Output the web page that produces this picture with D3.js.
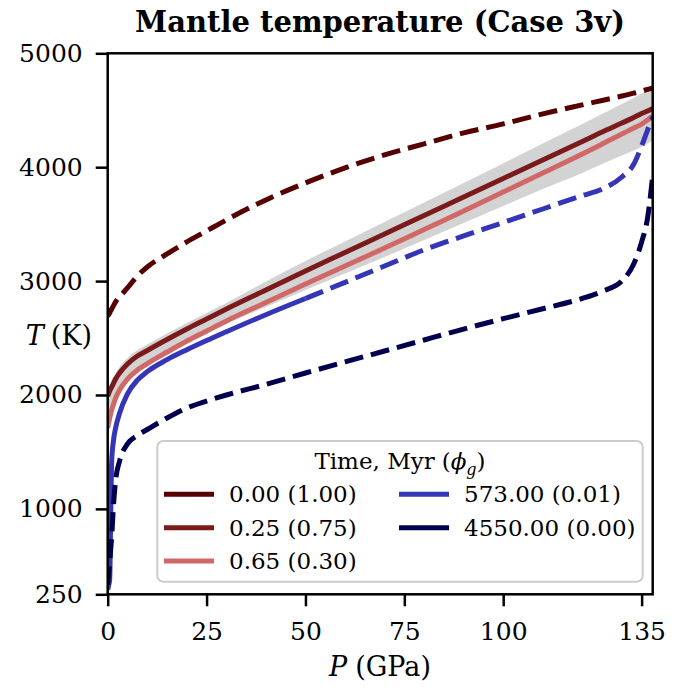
<!DOCTYPE html>
<html>
<head>
<meta charset="utf-8">
<script src="https://cdn.jsdelivr.net/npm/d3@7"></script>
<style>
  body { margin: 0; background: #fff; }
  svg text { font-family: "DejaVu Serif", serif; fill: #000; }
</style>
</head>
<body>
<div id="chart"></div>
<script>
// pressure samples (GPa), shared by every profile
const pressure = [0, 0.25, 0.5, 0.75, 1, 1.5, 2, 3, 5, 7.5, 10, 15, 20, 25, 30, 40, 50,
  60, 70, 80, 90, 100, 110, 120, 125, 130, 133, 135, 136.5, 137.8];

// temperature profiles (K)
const temp000 = [2694, 2705, 2720, 2738, 2755, 2787, 2817, 2861, 2940, 3045, 3124, 3238, 3344, 3440, 3537, 3713, 3862,
  3994, 4108, 4205, 4301, 4380, 4468, 4547, 4586, 4625, 4650, 4668, 4683, 4695];
const temp025 = [1991, 2013, 2035, 2053, 2070, 2105, 2140, 2193, 2272, 2342, 2391, 2487, 2579, 2667, 2755, 2922, 3089,
  3251, 3413, 3576, 3738, 3901, 4063, 4226, 4309, 4388, 4436, 4471, 4493, 4515];
const temp065 = [1710, 1755, 1798, 1835, 1868, 1922, 1973, 2044, 2140, 2219, 2276, 2377, 2474, 2562, 2650, 2812, 2974,
  3132, 3290, 3453, 3615, 3782, 3949, 4116, 4203, 4291, 4344, 4379, 4414, 4449];
const temp573 = [290, 330, 380, 900, 1420, 1610, 1710, 1840, 2010, 2130, 2205, 2310, 2397, 2478, 2555, 2705, 2847,
  2989, 3132, 3275, 3396, 3514, 3633, 3751, 3808, 3914, 4026, 4186, 4326, 4441];
const temp4550 = [332, 420, 520, 640, 753, 1050, 1250, 1420, 1570, 1645, 1697, 1798, 1886, 1947, 2000, 2093, 2193,
  2290, 2386, 2483, 2579, 2670, 2757, 2848, 2909, 3001, 3150, 3343, 3554, 3923];

// grey envelope around the early profiles
const bandHigh = [2044, 2066, 2088, 2106, 2123, 2158, 2193, 2246, 2325, 2395, 2444, 2540, 2632, 2720, 2808, 2997, 3177,
  3348, 3518, 3690, 3861, 4033, 4208, 4380, 4467, 4555, 4607, 4647, 4669, 4695];
const bandLow = [1620, 1680, 1735, 1780, 1815, 1896, 1947, 2018, 2114, 2193, 2250, 2351, 2448, 2536, 2624, 2772, 2921,
  3066, 3211, 3361, 3510, 3659, 3809, 3949, 4027, 4102, 4146, 4177, 4208, 4238];

// legend labels: time in Myr (melt fraction)
const labels = ["0.00 (1.00)", "0.25 (0.75)", "0.65 (0.30)", "573.00 (0.01)", "4550.00 (0.00)"];
const xTicks = [0, 25, 50, 75, 100, 135];
const yTicks = [250, 1000, 2000, 3000, 4000, 5000];
const solidUntil573 = 50; // 573 Myr profile is drawn solid up to this pressure

const colors = ["#560000", "#7b1a1a", "#d06868", "#3535b8", "#00004e"];
const dashed = [true, false, false, null, true];

const width = 686, height = 691;
const svg = d3.select("#chart").append("svg")
  .attr("width", width)
  .attr("height", height);

const x = d3.scaleLinear().domain([0, 137.8]).range([107.7, 652.7]);
const y = d3.scaleLinear().domain([250, 5000]).range([594.3, 53.3]);

svg.append("clipPath").attr("id", "plot")
  .append("rect")
  .attr("x", x(0)).attr("y", y(5000))
  .attr("width", x(137.8) - x(0)).attr("height", y(250) - y(5000));

const plot = svg.append("g").attr("clip-path", "url(#plot)");

// grey band
const band = pressure.map((p, i) => ({ p, lo: bandLow[i], hi: bandHigh[i] }));
plot.append("path")
  .datum(band)
  .attr("fill", "#d3d3d3")
  .attr("d", d3.area()
    .x(d => x(d.p))
    .y0(d => y(d.lo))
    .y1(d => y(d.hi))
    .curve(d3.curveMonotoneX));

const line = d3.line()
  .x(d => x(d.p))
  .y(d => y(d.t))
  .curve(d3.curveMonotoneX);

const profiles = [temp000, temp025, temp065, temp573, temp4550];
profiles.forEach((temps, k) => {
  const pts = pressure.map((p, i) => ({ p, t: temps[i] }));
  const draw = (data, dash) => plot.append("path")
    .datum(data)
    .attr("fill", "none")
    .attr("stroke", colors[k])
    .attr("stroke-width", 5)
    .attr("stroke-dasharray", dash ? "19,8" : null)
    .attr("d", line);
  if (dashed[k] === null) {
    draw(pts.filter(d => d.p <= solidUntil573), false);
    draw(pts.filter(d => d.p >= solidUntil573), true);
  } else {
    draw(pts, dashed[k]);
  }
});

// frame
svg.append("rect")
  .attr("x", x(0)).attr("y", y(5000))
  .attr("width", x(137.8) - x(0)).attr("height", y(250) - y(5000))
  .attr("fill", "none")
  .attr("stroke", "#000")
  .attr("stroke-width", 2.5);

// axes
const xAxis = svg.append("g")
  .attr("transform", `translate(0,${y(250)})`)
  .call(d3.axisBottom(x).tickValues(xTicks).tickSize(12).tickPadding(16).tickFormat(d3.format("d")));
const yAxis = svg.append("g")
  .attr("transform", `translate(${x(0)},0)`)
  .call(d3.axisLeft(y).tickValues(yTicks).tickSize(12).tickPadding(13).tickFormat(d3.format("d")));

[xAxis, yAxis].forEach(ax => {
  ax.select(".domain").remove();
  ax.selectAll(".tick line").attr("stroke", "#000").attr("stroke-width", 2.5);
  ax.selectAll(".tick text")
    .attr("fill", "#000")
    .style("font-family", "DejaVu Serif, serif")
    .style("font-size", "25px");
});

// title and axis labels
svg.append("text")
  .attr("x", 380).attr("y", 32)
  .attr("text-anchor", "middle")
  .style("font-size", "29px")
  .style("font-weight", "bold")
  .text("Mantle temperature (Case 3v)");

const yLabel = svg.append("text")
  .attr("x", 92).attr("y", 345)
  .attr("text-anchor", "end")
  .style("font-size", "27px");
yLabel.append("tspan").style("font-style", "italic").text("T");
yLabel.append("tspan").attr("dx", 7).text("(K)");

const xLabel = svg.append("text")
  .attr("x", 380).attr("y", 676)
  .attr("text-anchor", "middle")
  .style("font-size", "27px");
xLabel.append("tspan").style("font-style", "italic").text("P");
xLabel.append("tspan").attr("dx", 8).text("(GPa)");

// legend
const legend = svg.append("g");
legend.append("rect")
  .attr("x", 157.3).attr("y", 441)
  .attr("width", 485.4).attr("height", 140.7)
  .attr("rx", 6)
  .attr("fill", "#fff").attr("fill-opacity", 0.8)
  .attr("stroke", "#cccccc").attr("stroke-width", 2);

const lt = legend.append("text")
  .attr("x", 400).attr("y", 469)
  .attr("text-anchor", "middle")
  .style("font-size", "23px");
lt.append("tspan").text("Time, Myr");
lt.append("tspan").attr("dx", 7).text("(");
lt.append("tspan").style("font-style", "italic").text("ϕ");
lt.append("tspan").style("font-style", "italic").style("font-size", "16px").attr("dy", 6).text("g");
lt.append("tspan").attr("dy", -6).text(")");

labels.forEach((lab, i) => {
  const col = i < 3 ? 0 : 1;
  const row = i < 3 ? i : i - 3;
  const hx = col === 0 ? 164 : 399;
  const cy = 494.3 + row * 33.4;
  legend.append("line")
    .attr("x1", hx).attr("x2", hx + 50)
    .attr("y1", cy).attr("y2", cy)
    .attr("stroke", colors[i])
    .attr("stroke-width", 5);
  legend.append("text")
    .attr("x", hx + 65).attr("y", cy + 8)
    .style("font-size", "23px")
    .text(lab);
});
</script>
</body>
</html>
